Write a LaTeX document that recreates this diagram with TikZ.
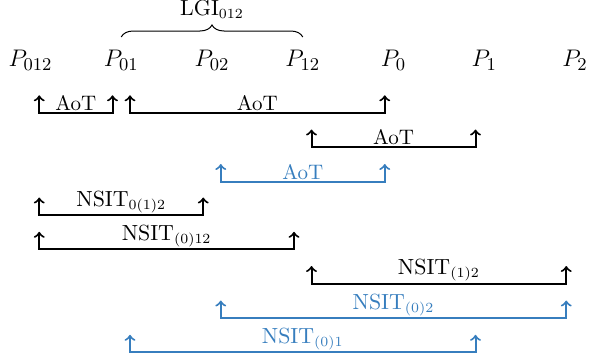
\documentclass[tikz,border=0pt]{standalone}
\usetikzlibrary{calc,decorations.pathreplacing}
\definecolor{myblue}{RGB}{55,126,190}
\newcommand\mybr[5]{%
  \draw[brk,#1] ($(#2|-#4)+(0,-17.5)$) -- (#2|-#4) -- node[lbl]{#5} (#3|-#4) -- ++(0,-17.5);}
\begin{document}
\begin{tikzpicture}[x=0.5pt,y=-0.5pt,
  plab/.style={font=\fontsize{12.4}{15}\selectfont, anchor=base, inner sep=0pt},
  brk/.style={line width=1pt, <->, >=to, line join=miter},
  lbl/.style={font=\fontsize{10.5}{12}\selectfont, anchor=south, inner sep=0.6pt},
  bl/.style={myblue, text=myblue}]
\useasboundingbox (0,0) rectangle (589,364);
\node[plab] (p012) at (30.5,66.7) {$P_{012}$};
\node[plab] (p01) at (121.25,66.7) {$P_{01}$};
\node[plab] (p02) at (212,66.7) {$P_{02}$};
\node[plab] (p12) at (302.75,66.7) {$P_{12}$};
\node[plab] (p0) at (393.5,66.7) {$P_{0}$};
\node[plab] (p1) at (484.25,66.7) {$P_{1}$};
\node[plab] (p2) at (575,66.7) {$P_{2}$};
\coordinate (l0) at ($(p012)+(8.75,0)$);
\coordinate (l1) at ($(p01)+(8.75,0)$);
\coordinate (l2) at ($(p02)+(8.75,0)$);
\coordinate (l3) at ($(p12)+(8.75,0)$);
\coordinate (r1) at ($(p01)+(-8.75,0)$);
\coordinate (r2) at ($(p02)+(-8.75,0)$);
\coordinate (r3) at ($(p12)+(-8.75,0)$);
\coordinate (r4) at ($(p0)+(-8.75,0)$);
\coordinate (r5) at ($(p1)+(-8.75,0)$);
\coordinate (r6) at ($(p2)+(-8.75,0)$);
\coordinate (y1) at (0,112.8);
\coordinate (y2) at (0,147);
\coordinate (y3) at (0,181.5);
\coordinate (y4) at (0,215);
\coordinate (y5) at (0,249.3);
\coordinate (y6) at (0,283.5);
\coordinate (y7) at (0,318);
\coordinate (y8) at (0,352.3);
\coordinate (bl0) at ($(p01|-0,37)$);
\coordinate (br0) at ($(p12|-0,37)$);
\draw[line width=0.5pt, decorate, decoration={brace, amplitude=6pt}] (bl0) -- (br0);
\node[lbl, anchor=base] (lgi) at (212,15) {$\mathrm{LGI}_{012}$};
\mybr{}{l0}{r1}{y1}{AoT}
\mybr{}{l1}{r4}{y1}{AoT}
\mybr{}{l3}{r5}{y2}{AoT}
\mybr{bl}{l2}{r4}{y3}{AoT}
\mybr{}{l0}{r2}{y4}{$\mathrm{NSIT}_{0(1)2}$}
\mybr{}{l0}{r3}{y5}{$\mathrm{NSIT}_{(0)12}$}
\mybr{}{l3}{r6}{y6}{$\mathrm{NSIT}_{(1)2}$}
\mybr{bl}{l2}{r6}{y7}{$\mathrm{NSIT}_{(0)2}$}
\mybr{bl}{l1}{r5}{y8}{$\mathrm{NSIT}_{(0)1}$}
\end{tikzpicture}
\end{document}
